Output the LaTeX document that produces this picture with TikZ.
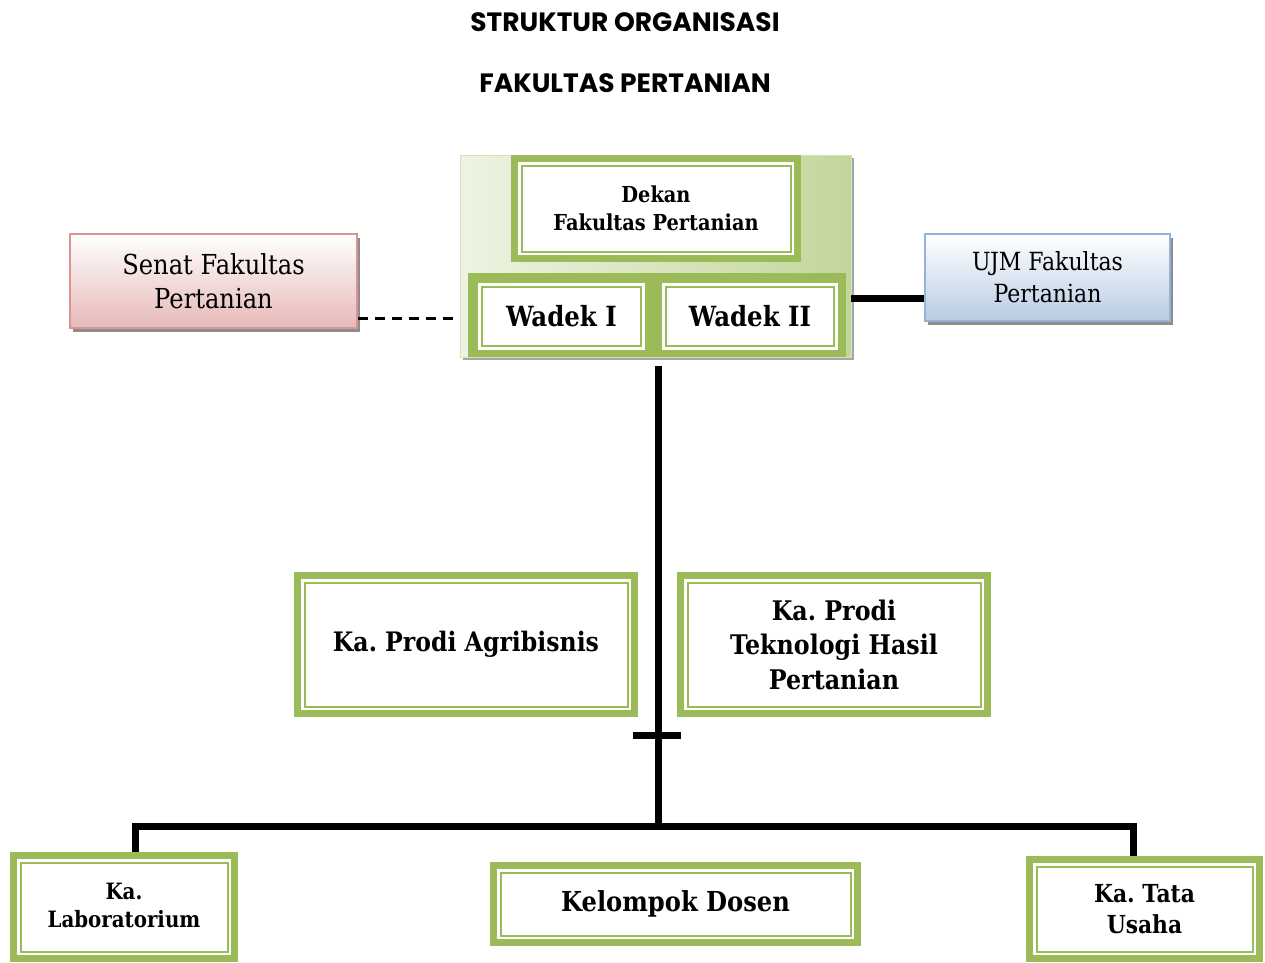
\documentclass[tikz,border=0pt]{standalone}
\usepackage{fontspec}
\setmainfont{DejaVu Serif}[FakeStretch=0.88]
\newfontfamily\titlefont{Poppins}
\usetikzlibrary{shadows}
\frenchspacing
\definecolor{grn}{HTML}{9BBB59}
\definecolor{grnlight}{HTML}{EEF3E3}
\definecolor{grnmid}{HTML}{C3D69B}
\definecolor{pinkb}{HTML}{E6B9B8}
\definecolor{pinkd}{HTML}{D99594}
\definecolor{blueb}{HTML}{B8CCE4}
\definecolor{blued}{HTML}{95B3D7}
\tikzset{
  gbox/.style={fill=grn, inner sep=0pt, align=center, font=\bfseries,
    path picture={
      \fill[white] ([shift={(7pt,-7pt)}]path picture bounding box.north west) rectangle ([shift={(-7pt,7pt)}]path picture bounding box.south east);
      \draw[grn, line width=2pt] ([shift={(10.5pt,-10.5pt)}]path picture bounding box.north west) rectangle ([shift={(-10.5pt,10.5pt)}]path picture bounding box.south east);
    }},
  wbox/.style={fill=white, inner sep=0pt, align=center, font=\bfseries,
    path picture={
      \draw[grn, line width=2pt] ([shift={(4pt,-4pt)}]path picture bounding box.north west) rectangle ([shift={(-4pt,4pt)}]path picture bounding box.south east);
    }},
  sidebox/.style={inner sep=0pt, align=center, line width=1.5pt,
    drop shadow={shadow xshift=3pt, shadow yshift=-4pt, fill=black!45, opacity=1}},
  thickline/.style={line width=7pt},
  dashline/.style={line width=2.6pt, dash pattern=on 10pt off 7pt},
}
\begin{document}
\begin{tikzpicture}[x=1pt,y=-1pt]
\useasboundingbox (0,0) rectangle (1265,962);
% title
\node[font=\titlefont\bfseries\fontsize{26.5}{30}\selectfont] (t1) at (625,22) {STRUKTUR ORGANISASI};
\node[font=\titlefont\bfseries\fontsize{26.5}{30}\selectfont] (t2) at (625,83) {FAKULTAS PERTANIAN};
% big background
\node[minimum width=391pt, minimum height=202pt, inner sep=0pt, left color=grnlight, right color=grnmid, draw=grnmid!70, line width=0.8pt,
  drop shadow={shadow xshift=3pt, shadow yshift=-3pt, fill=black!35, opacity=1}] (bg) at (655.5,256) {};
\node[gbox, minimum width=290pt, minimum height=107pt, font=\bfseries\fontsize{22}{28}\selectfont] (dekan) at (656,208.5) {Dekan\\Fakultas Pertanian};
\node[fill=grn, minimum width=378pt, minimum height=84pt, inner sep=0pt] (wrow) at (657,315) {};
\node[wbox, minimum width=167pt, minimum height=67pt, font=\bfseries\fontsize{27.8}{30}\selectfont] (w1) at (561.5,316.5) {Wadek I};
\node[wbox, minimum width=176pt, minimum height=67pt, font=\bfseries\fontsize{27.8}{30}\selectfont] (w2) at (750,316.5) {Wadek II};
% side boxes
\node[sidebox, minimum width=287pt, minimum height=94pt, draw=pinkd, top color=white, bottom color=pinkb, font=\fontsize{27.5}{34}\selectfont] (senat) at (213.5,281) {Senat Fakultas\\Pertanian};
\node[sidebox, minimum width=245pt, minimum height=87pt, draw=blued, top color=white, bottom color=blueb, font=\fontsize{25}{32}\selectfont] (ujm) at (1047.5,277.5) {UJM Fakultas\\Pertanian};
% prodi
\node[gbox, minimum width=344pt, minimum height=145pt, font=\bfseries\fontsize{26.8}{34}\selectfont] (agri) at (466,644.5) {\raisebox{5pt}{Ka. Prodi Agribisnis}};
\node[gbox, minimum width=314pt, minimum height=145pt, font=\bfseries\fontsize{27}{34.5}\selectfont] (thp) at (834,644.5) {Ka. Prodi\\Teknologi Hasil\\Pertanian};
% bottom
\node[gbox, minimum width=228pt, minimum height=110pt, font=\bfseries\fontsize{22.5}{28}\selectfont] (lab) at (124,907) {\raisebox{4pt}{Ka.}\\\raisebox{4pt}{Laboratorium}};
\node[gbox, minimum width=371pt, minimum height=84pt, font=\bfseries\fontsize{27.5}{30}\selectfont] (dosen) at (675.5,904) {Kelompok Dosen};
\node[gbox, minimum width=237pt, minimum height=106pt, font=\bfseries\fontsize{24.8}{31}\selectfont] (tu) at (1144.5,909) {Ka. Tata\\Usaha};
% connectors
\coordinate (ds) at ([yshift=10pt]senat.south east);
\draw[dashline] (ds) -- (ds -| bg.west);
\coordinate (u1) at (851,298);
\draw[thickline] (u1) -- (u1 -| ujm.west);
\coordinate (top) at (658,366);
\coordinate (junc) at (658,826);
\draw[thickline] (top) -- (junc);
\coordinate (barl) at (633,735);
\coordinate (barr) at (681,735);
\draw[thickline] (barl) -- (barr);
\draw[thickline] (lab.north -| 135,0) |- (junc) -| (tu.north -| 1133,0);
\end{tikzpicture}
\end{document}
